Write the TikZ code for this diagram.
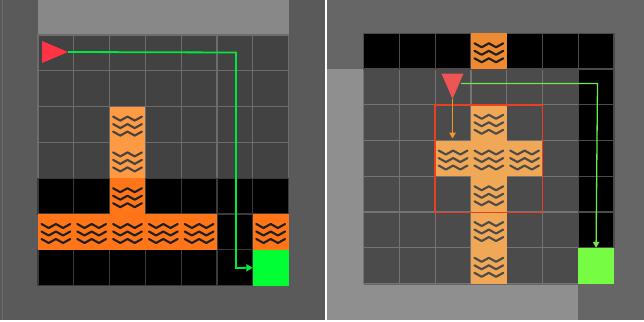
\documentclass[tikz,border=0pt]{standalone}
\usetikzlibrary{arrows.meta}
\definecolor{panelL}{HTML}{5A5A5A}
\definecolor{bandL}{HTML}{888888}
\definecolor{floorL}{HTML}{424242}
\definecolor{gridL}{HTML}{6C6C6C}
\definecolor{gridK}{HTML}{3A3A3A}
\definecolor{lavaL}{HTML}{FF7518}
\definecolor{paleL}{HTML}{FF9A44}
\definecolor{goalL}{HTML}{00FF33}
\definecolor{routeL}{HTML}{00E83C}
\definecolor{agentL}{HTML}{FF3344}
\definecolor{panelR}{HTML}{666666}
\definecolor{bandR}{HTML}{8F8F8F}
\definecolor{floorR}{HTML}{4B4B4B}
\definecolor{gridR}{HTML}{747474}
\definecolor{lavaR}{HTML}{EE8A30}
\definecolor{paleR}{HTML}{F0A856}
\definecolor{goalR}{HTML}{77FC44}
\definecolor{routeR}{HTML}{70E850}
\definecolor{agentR}{HTML}{F05555}
\definecolor{frameR}{HTML}{E84020}
\definecolor{probeR}{HTML}{EE9A30}
\tikzset{
  x=1pt,y=-1pt,
  tile/.style n args={2}{fill=#1,draw=#2,line width=1.2pt},
  flat/.style={fill=#1},
  route/.style={draw=#1,line width=1.8pt,-{Triangle[length=6.5pt,width=7pt]}},
  thinroute/.style={draw=#1,line width=1.3pt,-{Triangle[length=6pt,width=6.5pt]}},
  ripple/.style={draw=#1,line width=2.1pt,line cap=round,line join=round},
}
% three zigzag ripple lines inside the square whose top-left corner is (#1,#2)
\newcommand{\ripples}[3]{%
  \foreach \off in {10,17.5,25}{%
    \draw[ripple=#3,shift={(#1+3.5,#2+\off)}]
      (0,0) -- (7.2,4) -- (14.4,0) -- (21.6,4) -- (28.8,0);
  }%
}
\begin{document}
\begin{tikzpicture}
\useasboundingbox (0,0) rectangle (644,321);
\fill[white] (0,0) rectangle (644,321);

% ---- left panel ----
\fill[panelL] (0,0) rectangle (325,320);
\draw[gridL,line width=0.8pt] (2.5,0) -- (2.5,320);
\fill[bandL] (38,0) rectangle (289,35);
\def\sz{35.8}
\def\ox{38}
\def\oy{35}
\foreach \r in {0,...,3}\foreach \c in {0,...,6}
  \draw[tile={floorL}{gridL}] (\ox+\c*\sz,\oy+\r*\sz) rectangle ++(\sz,\sz);
\foreach \r in {4,6}\foreach \c in {0,...,6}
  \draw[tile={black}{gridK}] (\ox+\c*\sz,\oy+\r*\sz) rectangle ++(\sz,\sz);
\draw[tile={black}{gridK}] (\ox+5*\sz,\oy+5*\sz) rectangle ++(\sz,\sz);
\foreach \r in {2,3}{
  \fill[flat=paleL] (\ox+2*\sz,\oy+\r*\sz) rectangle ++(\sz,\sz);
  \ripples{\ox+2*\sz}{\oy+\r*\sz}{floorL}
}
\fill[flat=lavaL] (\ox+2*\sz,\oy+4*\sz) rectangle ++(\sz,\sz);
\ripples{\ox+2*\sz}{\oy+4*\sz}{black!88}
\foreach \c in {0,...,4,6}{
  \fill[flat=lavaL] (\ox+\c*\sz,\oy+5*\sz) rectangle ++(\sz,\sz);
  \ripples{\ox+\c*\sz}{\oy+5*\sz}{black!88}
}
\coordinate (goalA) at (\ox+6*\sz,\oy+6.5*\sz);
\fill[flat=goalL] (\ox+6*\sz,\oy+6*\sz) rectangle ++(\sz,\sz);
\fill[agentL] (42,41) -- (68,52) -- (42,63) -- cycle;
\coordinate (agentA) at (68,52);
\coordinate (turnA1) at (236,52.5);
\coordinate (turnA2) at (236,268);
\draw[route=routeL] (agentA) -- (turnA1) -- (turnA2) -- (goalA);

% ---- right panel ----
\fill[panelR] (327,0) rectangle (644,320);
\fill[bandR] (327,69) rectangle (364,320);
\fill[bandR] (364,285) rectangle (578,320);
\def\szb{35.75}
\def\oxb{363.7}
\def\oyb{33.3}
\foreach \r in {1,...,6}\foreach \c in {0,...,5}
  \draw[tile={floorR}{gridR}] (\oxb+\c*\szb,\oyb+\r*\szb) rectangle ++(\szb,\szb);
\foreach \c in {0,...,6}
  \draw[tile={black}{floorR}] (\oxb+\c*\szb,\oyb) rectangle ++(\szb,\szb);
\foreach \r in {1,...,5}
  \draw[tile={black}{floorR}] (\oxb+6*\szb,\oyb+\r*\szb) rectangle ++(\szb,\szb);
\fill[flat=lavaR] (\oxb+3*\szb,\oyb) rectangle ++(\szb,\szb);
\ripples{\oxb+3*\szb}{\oyb}{black!88}
\foreach \r in {2,...,6}{
  \fill[flat=paleR] (\oxb+3*\szb,\oyb+\r*\szb) rectangle ++(\szb,\szb);
  \ripples{\oxb+3*\szb}{\oyb+\r*\szb}{floorR}
}
\foreach \c in {2,4}{
  \fill[flat=paleR] (\oxb+\c*\szb,\oyb+3*\szb) rectangle ++(\szb,\szb);
  \ripples{\oxb+\c*\szb}{\oyb+3*\szb}{floorR}
}
\coordinate (goalB) at (\oxb+6.5*\szb,\oyb+6*\szb);
\fill[flat=goalR] (\oxb+6*\szb,\oyb+6*\szb) rectangle ++(\szb,\szb);
\draw[frameR,line width=1.6pt] (435,105) rectangle (542.5,212.5);
\fill[agentR] (441.5,73.5) -- (463.5,73.5) -- (452.5,99) -- cycle;
\coordinate (agentB) at (452.5,99);
\coordinate (tipB) at (452.5,138.5);
\coordinate (startB) at (461,83.5);
\coordinate (turnB) at (597.5,83.5);
\draw[thinroute=probeR] (agentB) -- (tipB);
\draw[thinroute=routeR] (startB) -- (turnB) -- (goalB);
\end{tikzpicture}
\end{document}
